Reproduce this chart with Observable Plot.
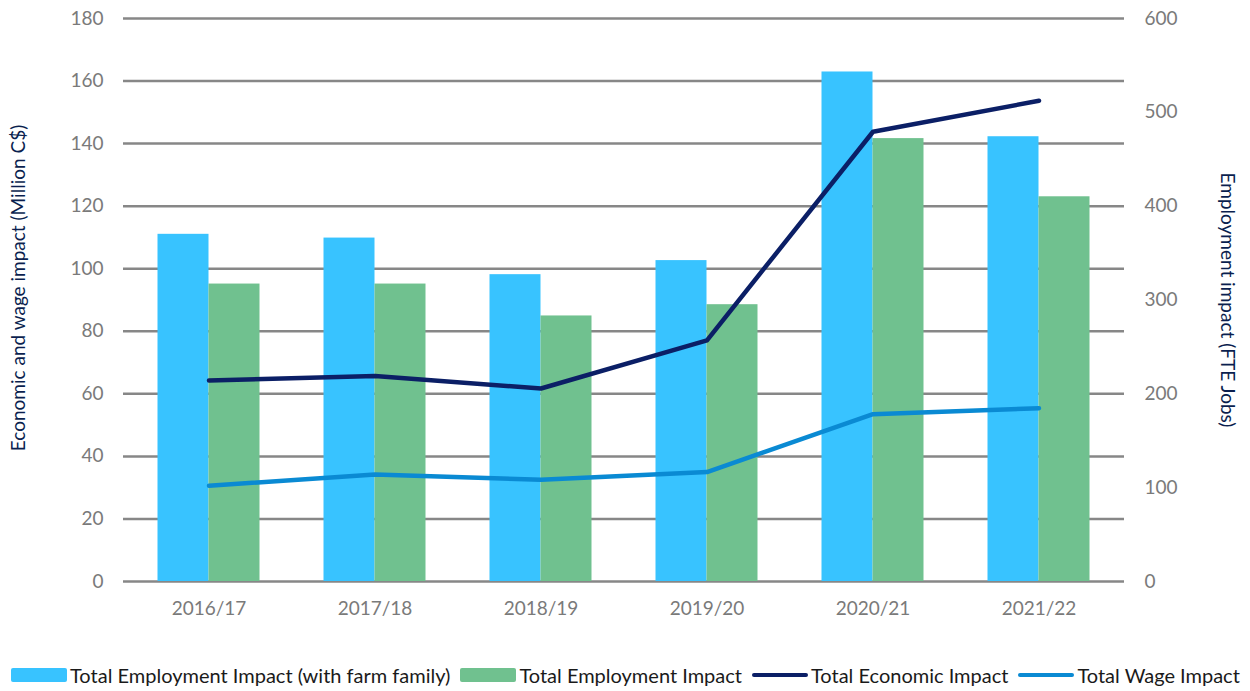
<!DOCTYPE html>
<html>
<head>
<meta charset="utf-8">
<script src="https://cdn.jsdelivr.net/npm/d3@7"></script>
<script src="https://cdn.jsdelivr.net/npm/@observablehq/plot@0.6"></script>
<style>
  html, body { margin: 0; padding: 0; background: #fff; overflow: hidden; }
  #chart svg { display: block; }
  .legend { display: flex; align-items: center; height: 33px; padding-top: 8px; padding-left: 11px;
    font-family: Lato, "Noto Sans", sans-serif; font-size: 20px; color: #1a1a1a; white-space: nowrap; }
  .legend .item { display: flex; align-items: center; margin-right: 10px; }
  .legend .sw { width: 56px; height: 14px; border-radius: 2px; margin-right: 3px; }
  .legend .ln { width: 56px; height: 4px; border-radius: 2px; margin-right: 3px; }
</style>
</head>
<body>
<div id="chart"></div>
<div class="legend" id="legend"></div>
<script>
const years = ["2016/17", "2017/18", "2018/19", "2019/20", "2020/21", "2021/22"];
// Employment impact, FTE jobs (right axis)
const empWithFarmFamily = [370, 366, 327, 342, 543, 474];
const empTotal = [317, 317, 283, 295, 472, 410];
// Million C$ (left axis)
const economicImpact = [64.3, 65.7, 61.7, 77.1, 143.8, 153.7];
const wageImpact = [30.6, 34.2, 32.5, 35.0, 53.5, 55.4];
const leftTicks = [0, 20, 40, 60, 80, 100, 120, 140, 160, 180];
const rightTicks = [0, 100, 200, 300, 400, 500, 600];
const seriesNames = ["Total Employment Impact (with farm family)", "Total Employment Impact", "Total Economic Impact", "Total Wage Impact"];
const colors = ["#38C3FF", "#70C18F", "#0B1F66", "#0A8AD3"];
const leftTitle = "Economic and wage impact (Million C$)";
const rightTitle = "Employment impact (FTE Jobs)";

const ratio = 180 / 600; // right-axis value -> left-axis value
const rows = years.map((y, i) => ({
  year: y, farm: empWithFarmFamily[i], emp: empTotal[i], econ: economicImpact[i], wage: wageImpact[i]
}));

const font = "Lato, 'Noto Sans', sans-serif";
const chart = Plot.plot({
  width: 1250,
  height: 650,
  marginLeft: 123,
  marginRight: 126,
  marginTop: 18,
  marginBottom: 69,
  style: { fontFamily: font, fontSize: "19px", background: "#fff" },
  x: { domain: years, paddingInner: 0.694, paddingOuter: 0.347, label: null },
  y: { domain: [0, 180], label: null },
  marks: [
    Plot.ruleY(leftTicks, { stroke: "#878787", strokeWidth: 2.5 }),
    Plot.barY(rows, { x: "year", y: d => d.farm * ratio, fill: colors[0], dx: -25.5 }),
    Plot.barY(rows, { x: "year", y: d => d.emp * ratio, fill: colors[1], dx: 25.5 }),
    Plot.line(rows, { x: "year", y: "econ", stroke: colors[2], strokeWidth: 4.5 }),
    Plot.line(rows, { x: "year", y: "wage", stroke: colors[3], strokeWidth: 4.5 }),
    Plot.axisX({ tickSize: 0, tickPadding: 20, fill: "#7a7a7a", fontSize: 19, label: null }),
    Plot.axisY(leftTicks, { anchor: "left", tickSize: 0, tickPadding: 20, fill: "#7a7a7a", fontSize: 19, label: null }),
    Plot.axisY(rightTicks.map(t => t * ratio), { anchor: "right", tickSize: 0, tickPadding: 20, fill: "#7a7a7a", fontSize: 19, label: null, tickFormat: d => String(Math.round(d / ratio)) }),
    Plot.text([leftTitle], { frameAnchor: "left", textAnchor: "middle", dx: -105, dy: -12, rotate: -90, fill: "#0B1F4F", fontSize: 19, text: d => d }),
    Plot.text([rightTitle], { frameAnchor: "right", textAnchor: "middle", dx: 103, dy: 0, rotate: 90, fill: "#0B1F4F", fontSize: 19, text: d => d })
  ]
});
document.getElementById("chart").appendChild(chart);

const legend = document.getElementById("legend");
seriesNames.forEach((name, i) => {
  const item = document.createElement("div");
  item.className = "item";
  const sw = document.createElement("div");
  sw.className = i < 2 ? "sw" : "ln";
  sw.style.background = colors[i];
  const t = document.createElement("span");
  t.textContent = name;
  item.appendChild(sw);
  item.appendChild(t);
  legend.appendChild(item);
});
</script>
</body>
</html>
